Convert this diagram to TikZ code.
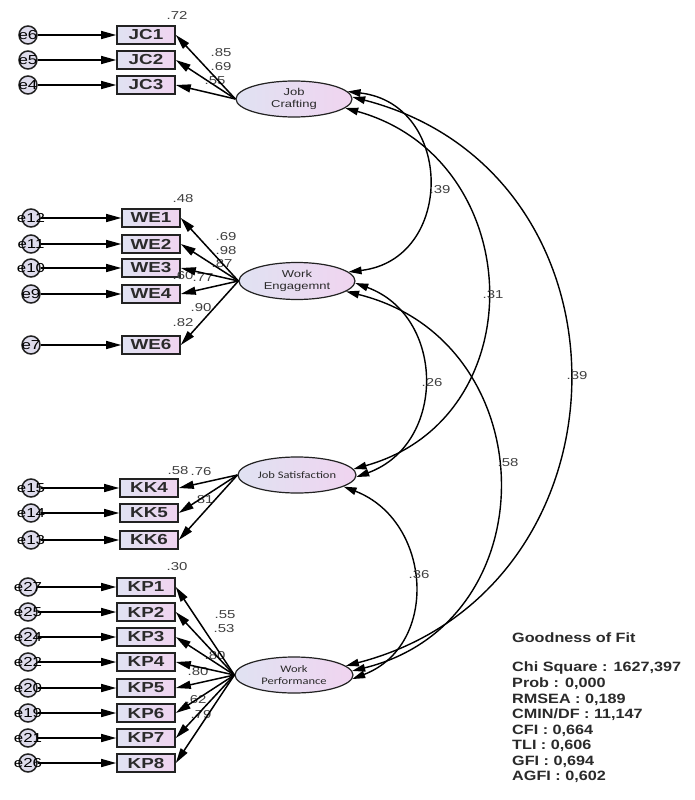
\documentclass[tikz,border=0pt]{standalone}
\usepackage{fontspec}
\setmainfont{Liberation Sans}[FakeStretch=1.3]
\newfontfamily\fitfont{Liberation Sans}[FakeStretch=1.2]
\newfontfamily\calfont{Carlito}[FakeStretch=1.25]
\usetikzlibrary{arrows.meta,shapes.geometric}
\definecolor{txt}{HTML}{2A2A2A}
\definecolor{coefc}{HTML}{404040}
\definecolor{fillL}{RGB}{224,226,242}
\definecolor{fillR}{RGB}{240,212,240}
\definecolor{edgec}{HTML}{222222}
\definecolor{errfill}{RGB}{222,220,236}
\begin{document}
\begin{tikzpicture}[x=1pt,y=-1pt,
  ind/.style={draw=edgec, line width=1.6pt, minimum width=58pt, minimum height=18pt, inner sep=0pt,
    left color=fillL, right color=fillR, text=txt, font=\fontsize{14.5}{14.5}\selectfont\bfseries},
  lat/.style={ellipse, draw=edgec, line width=1.2pt, inner sep=0pt, align=center,
    left color=fillL, right color=fillR, text=txt},
  errc/.style={circle, draw=edgec, line width=1.5pt, minimum size=18pt, inner sep=0pt, fill=errfill},
  errlab/.style={text=black, inner sep=0pt, font=\fontsize{13}{13}\selectfont},
  coef/.style={text=coefc, inner sep=0pt, font=\fontsize{11.5}{11.5}\selectfont},
  arr/.style={-{Triangle[length=15pt,width=8pt]}, line width=1.5pt, draw=black},
  cov/.style={{Triangle[length=13pt,width=7.5pt]}-{Triangle[length=13pt,width=7.5pt]}, line width=1.4pt, draw=black},
  fit/.style={anchor=west, text=txt, inner sep=0pt, font=\fitfont\fontsize{13.5}{13.5}\selectfont\bfseries}
]
\fill[white] (0,0) rectangle (694,800);
\useasboundingbox (0,0) rectangle (694,800);

% ---------- latent variables
\node[lat, minimum width=116pt, minimum height=36pt, font=\fontsize{10}{11.5}\selectfont] (JC) at (294,99) {Job\\Crafting};
\node[lat, minimum width=116pt, minimum height=37pt, font=\fontsize{10}{12}\selectfont] (WE) at (297,281) {Work\\Engagemnt};
\node[lat, minimum width=118pt, minimum height=36pt, font=\calfont\fontsize{10}{11}\selectfont] (JS) at (297,475) {Job Satisfaction};
\node[lat, minimum width=118pt, minimum height=36pt, font=\calfont\fontsize{10}{12}\selectfont] (WP) at (294,675) {Work\\Performance};

% ---------- indicators
\node[ind] (JC1) at (146,35) {JC1};
\node[ind] (JC2) at (146,60) {JC2};
\node[ind] (JC3) at (146,85) {JC3};
\node[ind] (WE1) at (151,218) {WE1};
\node[ind] (WE2) at (151,244) {WE2};
\node[ind] (WE3) at (151,268) {WE3};
\node[ind] (WE4) at (151,294) {WE4};
\node[ind] (WE6) at (151,345) {WE6};
\node[ind] (KK4) at (149,488) {KK4};
\node[ind] (KK5) at (149,513) {KK5};
\node[ind] (KK6) at (149,540) {KK6};
\node[ind] (KP1) at (146,587) {KP1};
\node[ind] (KP2) at (146,612) {KP2};
\node[ind] (KP3) at (146,637) {KP3};
\node[ind] (KP4) at (146,662) {KP4};
\node[ind] (KP5) at (146,688) {KP5};
\node[ind] (KP6) at (146,713) {KP6};
\node[ind] (KP7) at (146,738) {KP7};
\node[ind] (KP8) at (146,763) {KP8};

% ---------- error terms
\node[errc, label={[errlab]center:e6}] (e6) at (28,35) {};
\node[errc, label={[errlab]center:e5}] (e5) at (28,60) {};
\node[errc, label={[errlab]center:e4}] (e4) at (28,85) {};
\node[errc, label={[errlab]center:e12}] (e12) at (31,218) {};
\node[errc, label={[errlab]center:e11}] (e11) at (31,244) {};
\node[errc, label={[errlab]center:e10}] (e10) at (31,268) {};
\node[errc, label={[errlab]center:e9}] (e9) at (31,294) {};
\node[errc, label={[errlab]center:e7}] (e7) at (31,345) {};
\node[errc, label={[errlab]center:e15}] (e15) at (31,488) {};
\node[errc, label={[errlab]center:e14}] (e14) at (31,513) {};
\node[errc, label={[errlab]center:e13}] (e13) at (31,540) {};
\node[errc, label={[errlab]center:e27}] (e27) at (28,587) {};
\node[errc, label={[errlab]center:e25}] (e25) at (28,612) {};
\node[errc, label={[errlab]center:e24}] (e24) at (28,637) {};
\node[errc, label={[errlab]center:e22}] (e22) at (28,662) {};
\node[errc, label={[errlab]center:e20}] (e20) at (28,688) {};
\node[errc, label={[errlab]center:e19}] (e19) at (28,713) {};
\node[errc, label={[errlab]center:e21}] (e21) at (28,738) {};
\node[errc, label={[errlab]center:e26}] (e26) at (28,763) {};

% ---------- coefficient labels
\node[coef] (r1) at (177,15) {.72};
\node[coef] (l1) at (221,53) {.85};
\node[coef] (l2) at (221,67) {.69};
\node[coef] (l3) at (215,81) {.55};
\node[coef] (r2) at (183,199) {.48};
\node[coef] (l4) at (226,237) {.69};
\node[coef] (l5) at (226,251) {.98};
\node[coef] (l6) at (222,264) {.87};
\node[coef] (r3) at (183,276) {.60};
\node[coef] (l7) at (203,278) {.77};
\node[coef] (l8) at (201,308) {.90};
\node[coef] (r4) at (183,323) {.82};
\node[coef] (r5) at (178,471) {.58};
\node[coef] (l9) at (201,472) {.76};
\node[coef] (l10) at (203,500) {.81};
\node[coef] (r6) at (177,567) {.30};
\node[coef] (l11) at (225,615) {.55};
\node[coef] (l12) at (224,629) {.53};
\node[coef] (l13) at (215,656) {.80};
\node[coef] (r7) at (198,672) {.80};
\node[coef] (r8) at (196,700) {.62};
\node[coef] (l14) at (201,715) {.79};

% ---------- error arrows
\foreach \e/\b in {e6/JC1,e5/JC2,e4/JC3,e12/WE1,e11/WE2,e10/WE3,e9/WE4,e7/WE6,
  e15/KK4,e14/KK5,e13/KK6,e27/KP1,e25/KP2,e24/KP3,e22/KP4,e20/KP5,e19/KP6,e21/KP7,e26/KP8}
  \draw[arr] (\e) -- (\b.west);

% ---------- loadings
\foreach \b in {JC1,JC2,JC3} \draw[arr] (JC.west) -- (\b.east);
\foreach \b in {WE1,WE2,WE3,WE4,WE6} \draw[arr] (WE.west) -- (\b.east);
\foreach \b in {KK4,KK5,KK6} \draw[arr] (JS.west) -- (\b.east);
\foreach \b in {KP1,KP2,KP3,KP4,KP5,KP6,KP7,KP8} \draw[arr] (WP.west) -- (\b.east);

% ---------- covariances
\draw[cov] (JC.8) .. controls +(106.6,12.5) and +(106.6,-12.5) .. (WE.10);
\draw[cov] (JC.-10) .. controls +(183,51) and +(183,-51) .. (JS.6);
\draw[cov] (JC.2) .. controls +(293,76) and +(293,-76) .. (WP.10);
\draw[cov] (WE.-2) .. controls +(90.5,33) and +(90.5,-33) .. (JS.-2);
\draw[cov] (WE.-12) .. controls +(199,49) and +(199,-49) .. (WP.4);
\draw[cov] (JS.-14) .. controls +(88,34) and +(88,-34) .. (WP.-4);

\node[coef] (k1) at (440,190) {.39};
\node[coef] (k2) at (493,295) {.31};
\node[coef] (k3) at (577,376) {.39};
\node[coef] (k4) at (432,383) {.26};
\node[coef] (k5) at (508,463) {.58};
\node[coef] (k6) at (419,575) {.36};

% ---------- goodness of fit
\node[fit] (gt) at (512,638) {Goodness of Fit};
\node[fit] (g1) at (512,668) {Chi Square : 1627,397};
\node[fit] (g2) at (512,684) {Prob : 0,000};
\node[fit] (g3) at (512,700) {RMSEA : 0,189};
\node[fit] (g4) at (512,715) {CMIN/DF : 11,147};
\node[fit] (g5) at (512,731) {CFI : 0,664};
\node[fit] (g6) at (512,746) {TLI : 0,606};
\node[fit] (g7) at (512,762) {GFI : 0,694};
\node[fit] (g8) at (512,777) {AGFI : 0,602};
\end{tikzpicture}
\end{document}
